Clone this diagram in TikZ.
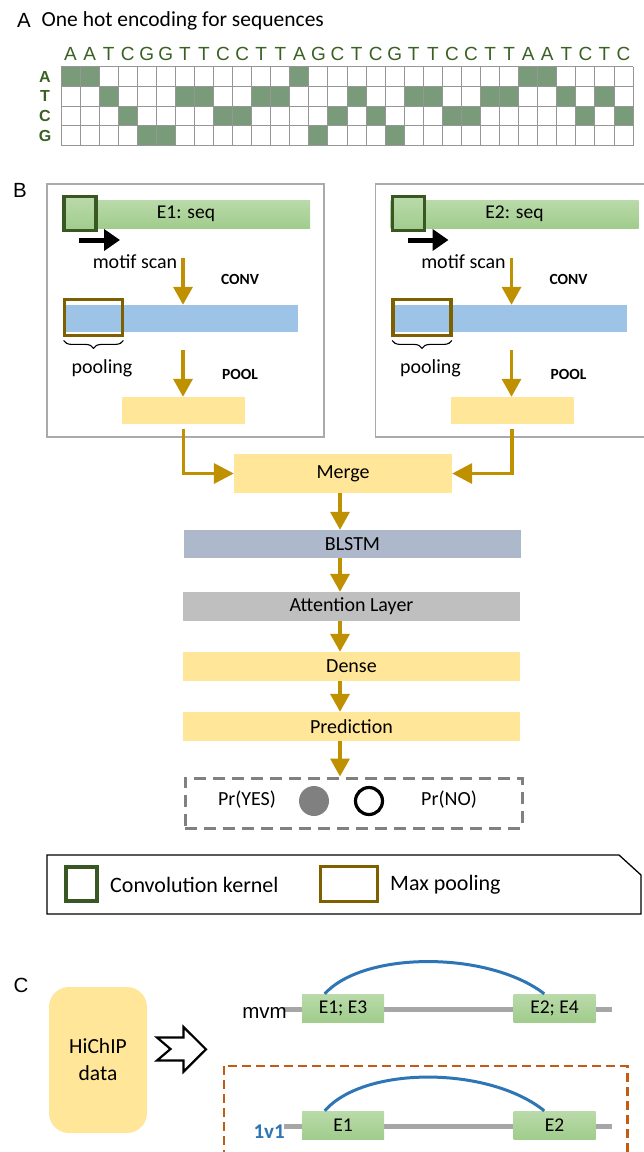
\documentclass[tikz,border=0pt]{standalone}
\usepackage{fontspec}
\setmainfont{Carlito}
\newfontfamily\arialf{Liberation Sans}
\usetikzlibrary{arrows.meta,calc,decorations.pathreplacing}
\definecolor{gold}{RGB}{191,144,0}
\definecolor{kgreen}{RGB}{56,87,35}
\definecolor{pbrown}{RGB}{127,96,0}
\definecolor{lblue}{RGB}{157,195,230}
\definecolor{lyellow}{RGB}{255,230,153}
\definecolor{bgray}{RGB}{173,185,202}
\definecolor{lgray}{RGB}{191,191,191}
\definecolor{cellg}{RGB}{122,155,122}
\definecolor{seqg}{RGB}{58,96,34}
\definecolor{boxgray}{RGB}{170,170,170}
\definecolor{gridc}{RGB}{150,150,150}
\definecolor{arcblue}{RGB}{46,117,182}
\definecolor{orng}{RGB}{197,90,17}
\definecolor{greenT}{RGB}{186,218,170}
\definecolor{greenB}{RGB}{160,204,140}
\definecolor{dgray}{RGB}{128,128,128}
\definecolor{lineg}{RGB}{166,166,166}
\def\rowA{0}\def\rowT{1}\def\rowC{2}\def\rowG{3}
\begin{document}
\begin{tikzpicture}[x=1pt,y=-1pt,
  txt/.style={inner sep=0, font=\fontsize{20}{24}\selectfont},
  capl/.style={inner sep=0, font=\bfseries\fontsize{15.5}{18}\selectfont},
  panellabel/.style={inner sep=0, font=\arialf\fontsize{20.5}{22}\selectfont},
  seqletter/.style={inner sep=0, text=seqg, font=\arialf\fontsize{19}{22}\selectfont},
  rowlabel/.style={inner sep=0, text=seqg, font=\arialf\bfseries\fontsize{16}{18}\selectfont},
  gridline/.style={draw=gridc, line width=1},
  bar/.style={inner sep=0, font=\fontsize{20}{24}\selectfont},
  panelbox/.style={draw=boxgray, line width=1.8, minimum width=277, minimum height=253, inner sep=0},
  seqbar/.style={bar, top color=greenT, bottom color=greenB, minimum width=248, minimum height=28, font=\fontsize{19.5}{23}\selectfont},
  kernelbox/.style={draw=kgreen, line width=3.8, top color=greenT, bottom color=greenB, minimum width=32, minimum height=34, inner sep=0},
  poolbox/.style={draw=pbrown, line width=3.8, minimum width=58, minimum height=36, inner sep=0},
  convbar/.style={bar, fill=lblue, minimum width=235, minimum height=27},
  pooledbar/.style={bar, fill=lyellow, minimum width=123, minimum height=27},
  layer/.style={bar, minimum width=337, minimum height=29},
  garrow/.style={draw=gold, line width=3.5, -{Triangle[width=19pt,length=18pt]}},
  sidearrow/.style={draw=gold, line width=3.5, -{Triangle[width=20pt,length=20pt]}},
  karrow/.style={draw=black, line width=5, -{Triangle[width=21pt,length=16pt]}},
  bracep/.style={draw=black, line width=1.1, decorate, decoration={brace,mirror,amplitude=8pt}},
  legtxt/.style={inner sep=0, font=\fontsize{22}{26}\selectfont},
  regbox/.style={bar, top color=greenT, bottom color=greenB, minimum width=82, minimum height=28, font=\fontsize{19.5}{23}\selectfont},
  gline/.style={draw=lineg, line width=5},
  loop/.style={draw=arcblue, line width=3},
]
\useasboundingbox (0,0) rectangle (643,1152);
% ---------------- Panel A
\node[panellabel] (labA) at (24,20) {A};
\node[inner sep=0, anchor=west, font=\fontsize{21.5}{25}\selectfont] (titleA) at (41.5,21) {One hot encoding for sequences};
\foreach \c [count=\i] in {A,A,T,C,G,G,T,T,C,C,T,T,A,G,C,T,C,G,T,T,C,C,T,T,A,A,T,C,T,C}{
  \pgfmathsetmacro\xl{61+(\i-1)*19.07}
  \pgfmathsetmacro\yt{66.7+\csname row\c\endcsname*19.7}
  \fill[cellg] (\xl,\yt) rectangle ++(19.07,19.7);
  \node[seqletter] (s\i) at (\xl+9.535,54) {\c};
}
\foreach \k in {0,...,30} \draw[gridline] (61+\k*19.07,66.7) -- (61+\k*19.07,145.5);
\foreach \k in {0,...,4} \draw[gridline] (61,66.7+\k*19.7) -- (633.1,66.7+\k*19.7);
\foreach \r [count=\j from 0] in {A,T,C,G} \node[rowlabel] (r\r) at (45,66.7+\j*19.7+9.85) {\r};
% ---------------- Panel B
\node[panellabel] (labB) at (20,190) {B};
\foreach \side/\dx in {1/0,2/328.5}{
  \node[panelbox] (box\side) at (185.5+\dx,310.5) {};
  \node[seqbar] (seq\side) at (186+\dx,214) {E\side: seq};
  \node[kernelbox] (ker\side) at (80+\dx,213.5) {};
  \coordinate (ka\side) at (79+\dx,240);
  \coordinate (kb\side) at (120+\dx,240);
  \draw[karrow] (ka\side) -- (kb\side);
  \node[txt] (motif\side) at (135+\dx,262) {motif scan};
  \node[convbar] (conv\side) at (180.5+\dx,318.5) {};
  \node[poolbox] (pool\side) at (93.5+\dx,317.5) {};
  \coordinate (ca\side) at (183+\dx,258);
  \draw[garrow] (ca\side) -- (ca\side |- conv\side.north);
  \node[capl] (convl\side) at (240+\dx,279) {CONV};
  \draw[bracep] ($(pool\side.south west)+(1,3)$) -- ($(pool\side.south east)+(-1,3)$);
  \node[txt] (poolingl\side) at (102+\dx,368) {pooling};
  \node[pooledbar] (pooled\side) at (183.5+\dx,410.5) {};
  \coordinate (pa\side) at (183+\dx,350);
  \draw[garrow] (pa\side) -- (pa\side |- pooled\side.north);
  \node[capl] (pooll\side) at (240+\dx,374) {POOL};
}
\node[bar, fill=lyellow, minimum width=218, minimum height=39] (merge) at (343,473.5) {Merge};
\draw[sidearrow, shorten <=5pt] (pooled1.south) |- (merge.west);
\draw[sidearrow, shorten <=5pt] (pooled2.south) |- (merge.east);
\node[layer, fill=bgray, minimum height=28] (blstm) at (352.5,544) {BLSTM};
\node[layer, fill=lgray] (att) at (351.5,606.5) {Attention Layer};
\node[layer, fill=lyellow] (dense) at (351.5,666.5) {Dense};
\node[layer, fill=lyellow] (pred) at (351.5,726.5) {Prediction};
\node[draw=dgray, line width=3, dash pattern=on 12 off 7, minimum width=337, minimum height=50, inner sep=0] (outbox) at (353.5,803) {};
\coordinate (ax) at (340,0);
\draw[garrow] (merge.south -| ax) -- (blstm.north -| ax);
\draw[garrow] (blstm.south -| ax) -- (att.north -| ax);
\draw[garrow] (att.south -| ax) -- (dense.north -| ax);
\draw[garrow] (dense.south -| ax) -- (pred.north -| ax);
\draw[garrow] (pred.south -| ax) -- (outbox.north -| ax);
\node[txt] (pyes) at (247,800) {Pr(YES)};
\node[circle, fill=dgray, minimum size=30, inner sep=0] (cyes) at (314,801) {};
\node[circle, draw=black, line width=3.2, minimum size=27, inner sep=0] (cno) at (369,801) {};
\node[txt] (pno) at (449,800) {Pr(NO)};
% ---------------- Legend
\draw[line width=1.3] (47,855) -- (619,855) -- (641,875) -- (641,914) -- (47,914) -- cycle;
\node[draw=kgreen, line width=3.8, minimum width=31, minimum height=34, inner sep=0] (legk) at (81.5,884) {};
\node[legtxt, anchor=west] (legkt) at (110,885) {Convolution kernel};
\node[draw=pbrown, line width=3.8, minimum width=57, minimum height=35, inner sep=0] (legp) at (349,884) {};
\node[legtxt, anchor=west] (legpt) at (390,885) {Max pooling};
% ---------------- Panel C
\node[panellabel] (labC) at (21,985) {C};
\node[fill=lyellow, rounded corners=20, minimum width=98, minimum height=146, inner sep=0, align=center, font=\fontsize{21.5}{27}\selectfont] (hichip) at (98,1060) {HiChIP\\data};
\draw[line width=2.2, fill=white, line join=miter] (157,1037.5) -- (183.5,1037.5) -- (183.5,1027) -- (206,1049.3) -- (183.5,1071.7) -- (183.5,1060.5) -- (157,1060.5) -- (170.5,1049) -- cycle;
% mvm
\coordinate (m1) at (284,1009);
\coordinate (m2) at (612,1009);
\draw[gline] (m1) -- (m2);
\node[regbox] (e13) at (343,1008) {E1; E3};
\node[regbox] (e24) at (554.5,1008) {E2; E4};
\draw[loop] ($(e13.north west)+(23,0)$) .. controls ($(e13.north west)+(62,-43)$) and ($(e24.north west)+(-25,-43)$) .. ($(e24.north west)+(31,0)$);
\node[inner sep=0, anchor=east, font=\arialf\fontsize{20.5}{24}\selectfont] (mvm) at (287,1013) {mvm};
% 1v1
\draw[orng, line width=2.8, dash pattern=on 9 off 5] (224,1066) rectangle (627.5,1180);
\coordinate (n1) at (284,1126);
\coordinate (n2) at (612,1126);
\draw[gline] (n1) -- (n2);
\node[regbox] (e1) at (343,1125) {E1};
\node[regbox] (e2) at (554.5,1125) {E2};
\draw[loop] ($(e1.north west)+(23,0)$) .. controls ($(e1.north west)+(62,-45)$) and ($(e2.north west)+(-25,-45)$) .. ($(e2.north west)+(31,0)$);
\node[inner sep=0, anchor=east, text=arcblue, font=\bfseries\fontsize{21}{24}\selectfont] (ovo) at (285,1132) {1v1};
\end{tikzpicture}
\end{document}
